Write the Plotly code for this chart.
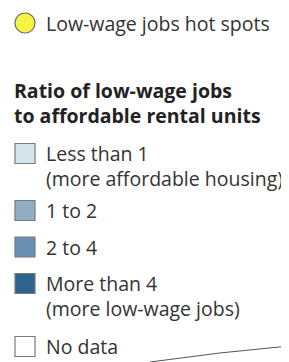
import plotly.graph_objects as go

# ---- data ----
hotspot_label = "Low-wage jobs hot spots"
legend_title = ["Ratio of low-wage jobs", "to affordable rental units"]
class_labels = ["Less than 1", "1 to 2", "2 to 4", "More than 4", "No data"]
class_notes = ["(more affordable housing)", "", "", "(more low-wage jobs)", ""]
class_colors = ["#d3e5ea", "#90afc6", "#6890b3", "#2e6390", "#ffffff"]
hotspot_color = "#f7f443"

W, H = 289, 362
OFF = 8  # default page body margin
FONT = "Open Sans"
FS = 19.5
LINE = 1.3 * FS  # plotly multi-line spacing

fig = go.Figure()

# layout helpers (page-pixel space)
x_sym = 25
x_txt = 44
y_hot = 23
y_title = 103
row_gaps = [57, 36.5, 36.5, 63]
row_y = [153.5]
for g in row_gaps:
    row_y.append(row_y[-1] + g)

fig.add_trace(go.Scatter(
    x=[x_sym], y=[y_hot], mode="markers",
    marker=dict(symbol="circle", size=20, color=hotspot_color,
                line=dict(color="#6e6e6e", width=1.2)),
    hoverinfo="skip", showlegend=False))
fig.add_annotation(x=x_txt, y=y_hot, text=hotspot_label, showarrow=False,
                   xanchor="left", yanchor="middle",
                   font=dict(family=FONT, size=FS, color="#333333"))

fig.add_annotation(x=12, y=y_title, text="<br>".join("<b>" + t + "</b>" for t in legend_title),
                   showarrow=False, xanchor="left", yanchor="middle", align="left",
                   font=dict(family=FONT, size=FS, color="#222222"))

fig.add_trace(go.Scatter(
    x=[x_sym] * len(class_labels), y=row_y, mode="markers",
    marker=dict(symbol="square", size=20, color=class_colors,
                line=dict(color="#7a7a7a", width=1.2)),
    hoverinfo="skip", showlegend=False))

for i, (lab, note) in enumerate(zip(class_labels, class_notes)):
    txt = lab + ("<br>" + note if note else "")
    yc = row_y[i] + (LINE / 2 if note else 0)
    fig.add_annotation(x=x_txt, y=yc, text=txt, showarrow=False,
                       xanchor="left", yanchor="middle", align="left",
                       font=dict(family=FONT, size=FS, color="#333333"))

fig.add_shape(type="path", path="M 150 362 Q 220 352 289 346",
              line=dict(color="#555555", width=1))

fig.update_xaxes(range=[OFF, W], visible=False, fixedrange=True)
fig.update_yaxes(range=[H, OFF], visible=False, fixedrange=True)
fig.update_layout(width=W - OFF, height=H - OFF, margin=dict(l=0, r=0, t=0, b=0),
                  paper_bgcolor="white", plot_bgcolor="white")

fig.write_html("out.html", config={"displayModeBar": False})
